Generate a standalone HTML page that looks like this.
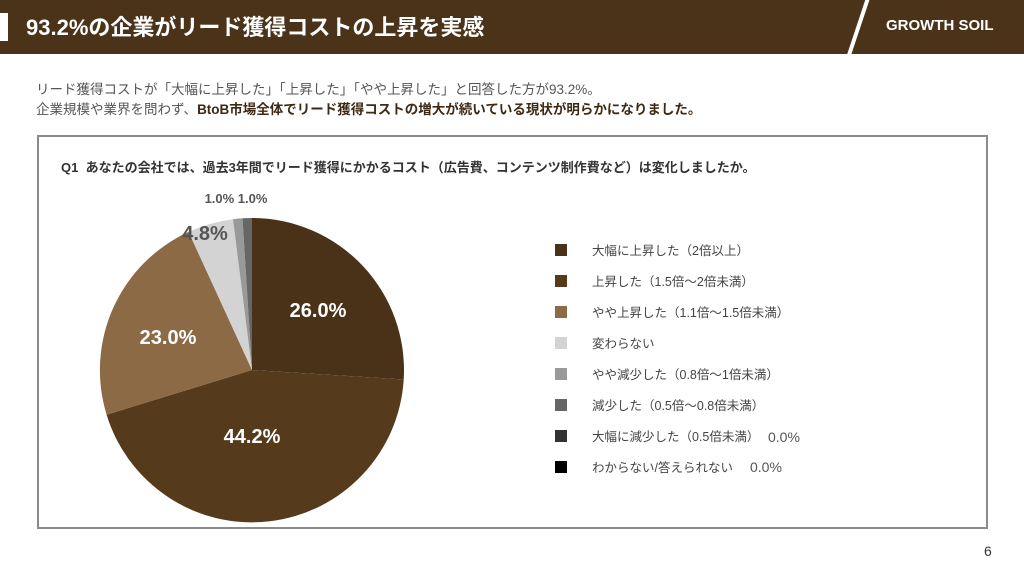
<!DOCTYPE html>
<html><head><meta charset="utf-8"><style>
body{margin:0;width:1024px;height:576px;background:#fff;position:relative;overflow:hidden;font-family:"Liberation Sans","Noto Sans CJK JP",sans-serif;}
.a{position:absolute;white-space:nowrap;}
</style></head><body>
<div class="a" style="left:0;top:0;width:1024px;height:54px;background:#4a3319"></div>
<div class="a" style="left:0;top:13px;width:8px;height:28px;background:#fff"></div>
<svg class="a" style="left:0;top:0" width="1024" height="60"><line x1="868" y1="-2" x2="848" y2="58" stroke="#fff" stroke-width="4"/></svg>
<div class="a" style="left:26px;top:10px;font-size:22px;color:#fff;font-weight:bold;">93.2%の企業がリード獲得コストの上昇を実感</div>
<div class="a" style="left:886px;top:17px;font-size:15px;color:#fff;font-weight:bold;">GROWTH SOIL</div>
<div class="a" style="left:36px;top:78px;font-size:13.5px;color:#555;">リード獲得コストが「大幅に上昇した」「上昇した」「やや上昇した」と回答した方が93.2%。</div>
<div class="a" style="left:36px;top:98px;font-size:13.5px;color:#555;">企業規模や業界を問わず、<b style="color:#3e2a14">BtoB市場全体でリード獲得コストの増大が続いている現状が明らかになりました。</b></div>
<div class="a" style="left:37px;top:135px;width:947px;height:390px;border:2px solid #8a8a8a;"></div>
<div class="a" style="left:61px;top:157px;font-size:13px;color:#333;font-weight:bold;">Q1&nbsp; あなたの会社では、過去3年間でリード獲得にかかるコスト（広告費、コンテンツ制作費など）は変化しましたか。</div>
<svg class="a" style="left:0;top:0" width="1024" height="576">
<path d="M252,370 L252,218 A152,152 0 0 1 403.7,379.5 Z" fill="#4a3218"/>
<path d="M252,370 L403.7,379.5 A152,152 0 0 1 106.6,414.7 Z" fill="#563a1c"/>
<path d="M252,370 L106.6,414.7 A152,152 0 0 1 188.6,231.9 Z" fill="#8b6a45"/>
<path d="M252,370 L188.6,231.9 A152,152 0 0 1 233,219.2 Z" fill="#d3d3d3"/>
<path d="M252,370 L233,219.2 A152,152 0 0 1 242.5,218.3 Z" fill="#999"/>
<path d="M252,370 L242.5,218.3 A152,152 0 0 1 252,218 Z" fill="#666"/>
<g font-weight="bold" font-family="Liberation Sans, sans-serif">
<text x="318" y="317" fill="#fff" font-size="20" text-anchor="middle">26.0%</text>
<text x="252" y="443" fill="#fff" font-size="20" text-anchor="middle">44.2%</text>
<text x="168" y="344" fill="#fff" font-size="20" text-anchor="middle">23.0%</text>
<text x="205" y="240" fill="#555" font-size="20" text-anchor="middle">4.8%</text>
<text x="236" y="203" fill="#555" font-size="13" text-anchor="middle">1.0% 1.0%</text>
</g>
<g font-size="12.5" fill="#444" font-family="Liberation Sans, Noto Sans CJK JP, sans-serif">
<rect x="555" y="244" width="12" height="12" fill="#4a3218"/><text x="592" y="255">大幅に上昇した（2倍以上）</text>
<rect x="555" y="275" width="12" height="12" fill="#563a1c"/><text x="592" y="286">上昇した（1.5倍〜2倍未満）</text>
<rect x="555" y="306" width="12" height="12" fill="#8b6a45"/><text x="592" y="317">やや上昇した（1.1倍〜1.5倍未満）</text>
<rect x="555" y="337" width="12" height="12" fill="#d3d3d3"/><text x="592" y="348">変わらない</text>
<rect x="555" y="368" width="12" height="12" fill="#999"/><text x="592" y="379">やや減少した（0.8倍〜1倍未満）</text>
<rect x="555" y="399" width="12" height="12" fill="#666"/><text x="592" y="410">減少した（0.5倍〜0.8倍未満）</text>
<rect x="555" y="430" width="12" height="12" fill="#333"/><text x="592" y="441">大幅に減少した（0.5倍未満）</text>
<text x="768" y="442" font-size="14" fill="#555">0.0%</text>
<rect x="555" y="461" width="12" height="12" fill="#000"/><text x="592" y="472">わからない/答えられない</text>
<text x="750" y="472" font-size="14" fill="#555">0.0%</text>
</g>
<text x="984" y="556" font-size="14" fill="#333" font-family="Liberation Sans, sans-serif">6</text>
</svg>
</body></html>
